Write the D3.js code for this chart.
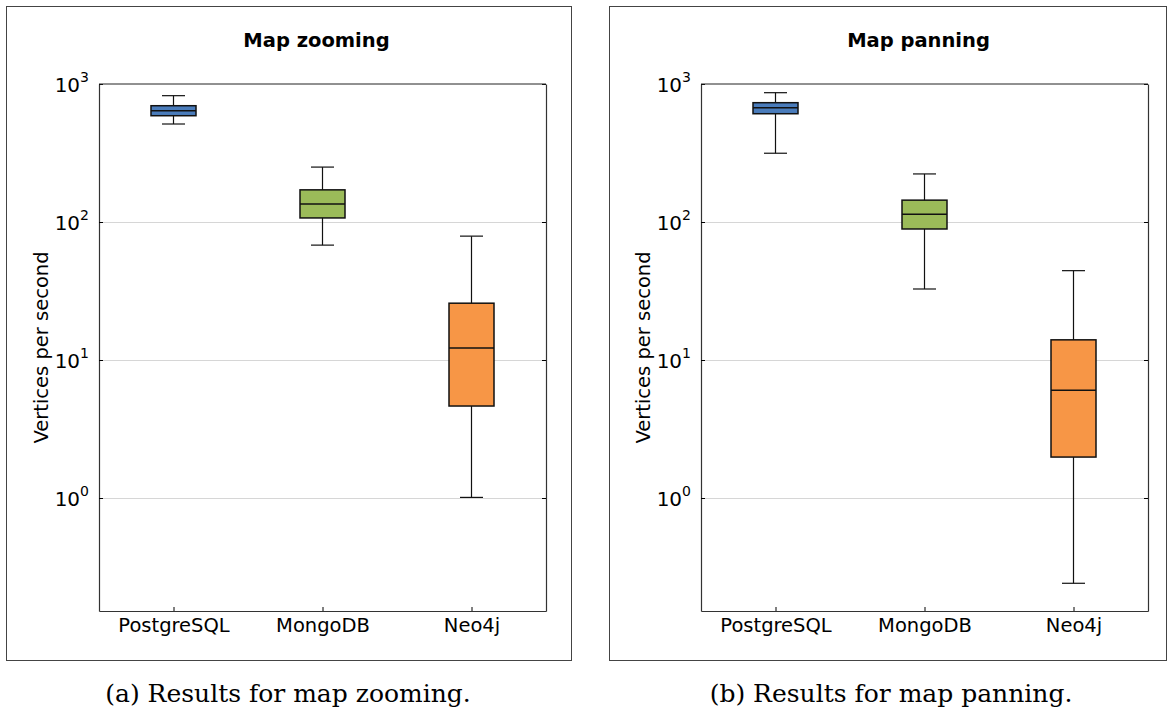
<!DOCTYPE html>
<html>
<head>
<meta charset="utf-8">
<script src="https://cdn.jsdelivr.net/npm/d3@7"></script>
<style>
  body { margin: 0; background: #fff; }
  svg { display: block; }
  .tick text { font-family: "DejaVu Sans", sans-serif; }
</style>
</head>
<body>
<svg id="chart" width="1168" height="711"></svg>
<script>
'use strict';

// categories on the x axis
var categories = ['PostgreSQL', 'MongoDB', 'Neo4j'];
var boxColors = ['#4a7cbb', '#9bbb59', '#f79646'];
var yTickValues = [1, 10, 100, 1000];
var yTickExponents = ['0', '1', '2', '3'];

// map zooming: whisker low, q1, median, q3, whisker high
var zoomLow = [513, 68, 1.01];
var zoomQ1 = [589, 107, 4.64];
var zoomMedian = [640, 135, 12.2];
var zoomQ3 = [696, 171, 25.8];
var zoomHigh = [823, 250, 79];

// map panning
var panLow = [315, 32.7, 0.241];
var panQ1 = [609, 89, 1.98];
var panMedian = [673, 114, 6.03];
var panQ3 = [732, 144, 14.0];
var panHigh = [865, 223, 44.4];

var svg = d3.select('#chart');

var PLOT_TOP = 84;
var PLOT_H = 527;
var PLOT_W = 447;

var panels = [
    { frame: [6, 6, 565, 654], plotX: 99, title: 'Map zooming', caption: '(a) Results for map zooming.', captionX: 288,
      low: zoomLow, q1: zoomQ1, med: zoomMedian, q3: zoomQ3, high: zoomHigh },
    { frame: [609, 6, 557, 654], plotX: 701, title: 'Map panning', caption: '(b) Results for map panning.', captionX: 891,
      low: panLow, q1: panQ1, med: panMedian, q3: panQ3, high: panHigh }
];

var y = d3.scaleLog()
    .domain([Math.pow(10, -113 / 138), 1000])
    .range([PLOT_H, 0]);

var x = d3.scalePoint()
    .domain(categories)
    .range([0, PLOT_W])
    .padding(0.5);

var BOX_W = 45;
var CAP_W = 23;

panels.forEach(function(p) {
    drawPanel(p);
});

function drawPanel(p) {
    //outer frame
    svg.append('rect')
        .attr('x', p.frame[0] + 0.5)
        .attr('y', p.frame[1] + 0.5)
        .attr('width', p.frame[2])
        .attr('height', p.frame[3])
        .attr('fill', 'none')
        .attr('stroke', '#444')
        .attr('stroke-width', 1);

    //title
    svg.append('text')
        .attr('x', p.plotX + PLOT_W / 2 - 6)
        .attr('y', 47)
        .attr('text-anchor', 'middle')
        .style('font-family', '"DejaVu Sans", sans-serif')
        .style('font-weight', 'bold')
        .style('font-size', '19.5px')
        .text(p.title);

    //caption
    svg.append('text')
        .attr('x', p.captionX)
        .attr('y', 702)
        .attr('text-anchor', 'middle')
        .style('font-family', '"DejaVu Serif", serif')
        .style('font-size', '25px')
        .text(p.caption);

    var g = svg.append('g')
        .attr('transform', 'translate(' + p.plotX + ',' + PLOT_TOP + ')');

    //grid
    g.append('g').selectAll('line')
        .data(yTickValues.slice(0, 3))
        .enter()
        .append('line')
        .attr('x1', 0)
        .attr('x2', PLOT_W)
        .attr('y1', function(d) { return Math.round(y(d)) + 0.5; })
        .attr('y2', function(d) { return Math.round(y(d)) + 0.5; })
        .attr('stroke', '#d6d6d6')
        .attr('stroke-width', 1);

    //axes with inward ticks
    var axisL = g.append('g')
        .call(d3.axisLeft(y).tickValues(yTickValues).tickSize(-4).tickSizeOuter(0).tickFormat(''));
    var axisR = g.append('g')
        .attr('transform', 'translate(' + PLOT_W + ',0)')
        .call(d3.axisRight(y).tickValues(yTickValues).tickSize(-4).tickSizeOuter(0).tickFormat(''));
    var axisB = g.append('g')
        .attr('transform', 'translate(0,' + PLOT_H + ')')
        .call(d3.axisBottom(x).tickSize(-4).tickSizeOuter(0).tickPadding(7));
    g.append('line')
        .attr('x1', 0).attr('x2', PLOT_W)
        .attr('y1', 0).attr('y2', 0)
        .attr('stroke', '#222');

    [axisL, axisR, axisB].forEach(function(a) {
        a.select('.domain').attr('stroke', '#333').attr('stroke-width', 1.2);
        a.selectAll('.tick line').attr('stroke', '#000');
    });

    axisB.selectAll('.tick text')
        .attr('fill', '#000')
        .attr('dy', '0.72em')
        .style('font-size', '19.5px');

    //y tick labels 10^n
    var lbl = g.append('g').selectAll('text')
        .data(yTickValues)
        .enter()
        .append('text')
        .attr('x', -10)
        .attr('y', function(d) { return y(d) + 8; })
        .attr('text-anchor', 'end')
        .style('font-family', '"DejaVu Sans", sans-serif')
        .style('font-size', '20px');
    lbl.append('tspan').text('10');
    lbl.append('tspan')
        .attr('dy', -10)
        .style('font-size', '14px')
        .text(function(d, i) { return yTickExponents[i]; });

    //y axis label
    svg.append('text')
        .attr('transform', 'translate(' + (p.plotX - 51) + ',' + (PLOT_TOP + PLOT_H / 2) + ') rotate(-90)')
        .attr('text-anchor', 'middle')
        .style('font-family', '"DejaVu Sans", sans-serif')
        .style('font-size', '19.5px')
        .text('Vertices per second');

    //boxes
    var boxes = g.append('g').selectAll('g')
        .data(categories)
        .enter()
        .append('g')
        .attr('transform', function(d) { return 'translate(' + x(d) + ',0)'; });

    boxes.append('line')
        .attr('x1', 0).attr('x2', 0)
        .attr('y1', function(d, i) { return y(p.high[i]); })
        .attr('y2', function(d, i) { return y(p.low[i]); })
        .attr('stroke', '#111')
        .attr('stroke-width', 1.2);

    boxes.selectAll('.cap')
        .data(function(d, i) { return [p.high[i], p.low[i]]; })
        .enter()
        .append('line')
        .attr('class', 'cap')
        .attr('x1', -CAP_W / 2).attr('x2', CAP_W / 2)
        .attr('y1', function(v) { return y(v); })
        .attr('y2', function(v) { return y(v); })
        .attr('stroke', '#111')
        .attr('stroke-width', 1.2);

    boxes.append('rect')
        .attr('x', -BOX_W / 2)
        .attr('width', BOX_W)
        .attr('y', function(d, i) { return y(p.q3[i]); })
        .attr('height', function(d, i) { return y(p.q1[i]) - y(p.q3[i]); })
        .attr('fill', function(d, i) { return boxColors[i]; })
        .attr('stroke', '#111')
        .attr('stroke-width', 1.5);

    boxes.append('line')
        .attr('x1', -BOX_W / 2).attr('x2', BOX_W / 2)
        .attr('y1', function(d, i) { return y(p.med[i]); })
        .attr('y2', function(d, i) { return y(p.med[i]); })
        .attr('stroke', '#111')
        .attr('stroke-width', 1.5);
}
</script>
</body>
</html>
